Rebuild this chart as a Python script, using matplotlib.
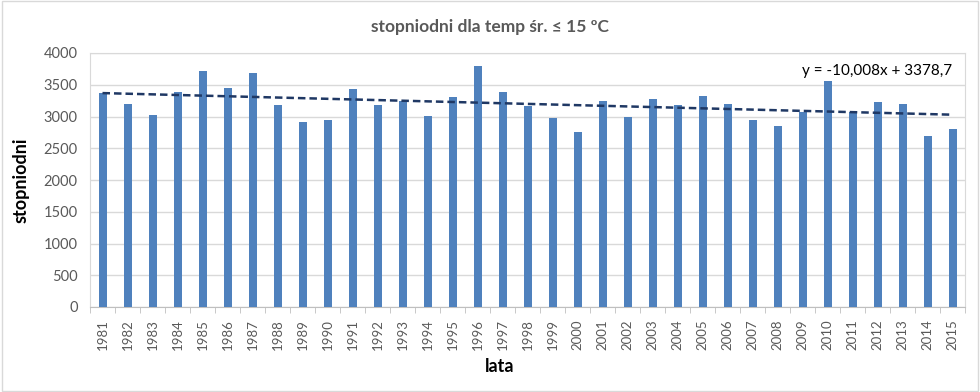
import matplotlib.pyplot as plt
from matplotlib.patches import Rectangle
import numpy as np

lata = list(range(1981, 2016))
stopniodni = [3370, 3200, 3020, 3390, 3710, 3450, 3690, 3180, 2910, 2940,
              3430, 3185, 3250, 3010, 3310, 3800, 3380, 3160, 2980, 2760,
              3250, 3000, 3270, 3180, 3320, 3200, 2950, 2850, 3070, 3560,
              3070, 3230, 3200, 2700, 2800]
# trend from the chart's label: y = -10,008x + 3378,7
trend_a = -10.008
trend_b = 3378.7

plt.rcParams['font.family'] = ['Lato', 'DejaVu Sans']

fig = plt.figure(figsize=(9.8, 3.92), dpi=100)
ax = fig.add_axes([90 / 980, 1 - 307 / 392, 875 / 980, 254 / 392])

x = np.arange(len(lata))
ax.bar(x, stopniodni, width=0.32, color='#4F81BD', zorder=3)

xt = x + 1
ax.plot(x, trend_a * xt + trend_b, linestyle=(0, (3, 1.6)), color='#1F3864',
        linewidth=1.8, zorder=4)
ax.text(0.985, 0.93, 'y = -10,008x + 3378,7', transform=ax.transAxes,
        ha='right', va='center', fontsize=11, color='#000000', zorder=5)

ax.set_xlim(-0.5, len(lata) - 0.5)
ax.set_ylim(0, 4000)
ax.set_yticks(range(0, 4001, 500))
ax.yaxis.grid(True, color='#D9D9D9', linewidth=1)
ax.set_axisbelow(True)
ax.tick_params(axis='y', length=0, labelsize=10.5, labelcolor='#595959', pad=9)

ax.set_xticks(x)
ax.set_xticklabels([str(r) for r in lata], rotation=90, fontsize=9.5,
                   color='#595959')
ax.tick_params(axis='x', length=0, pad=9)
ax.set_xticks(np.arange(-0.5, len(lata)), minor=True)
ax.tick_params(axis='x', which='minor', length=4, color='#BFBFBF')

for s in ['top', 'right', 'left']:
    ax.spines[s].set_color('#D9D9D9')
ax.spines['bottom'].set_color('#BFBFBF')

ax.set_ylabel('stopniodni', fontsize=13, fontweight='bold', color='#000000',
              labelpad=10)
fig.text(500 / 980, 1 - 366 / 392, 'lata', ha='center', va='center',
         fontsize=13, fontweight='bold', color='#000000')
fig.text(490 / 980, 1 - 27 / 392, 'stopniodni dla temp śr. ≤ 15 ºC',
         ha='center', va='center', fontsize=12.5, fontweight='bold',
         color='#595959')

fig.patches.append(Rectangle((0.002, 0.003), 0.996, 0.994, transform=fig.transFigure,
                             fill=False, edgecolor='#D9D9D9', linewidth=1))

fig.savefig('out.png', dpi=100)
